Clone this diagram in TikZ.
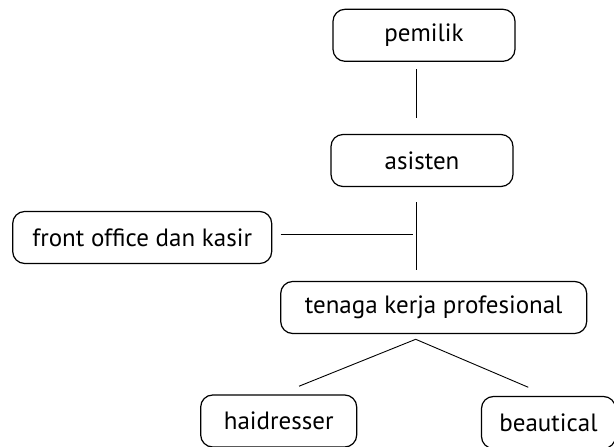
\documentclass[tikz,border=0pt]{standalone}
\usepackage{fontspec}
\setmainfont{PT Sans}
\usepackage{tikz}
\usetikzlibrary{positioning}

\begin{document}
\begin{tikzpicture}[x=1pt, y=1pt]
\tikzstyle{box} = [rectangle, draw, rounded corners=12pt, line width=1.2pt, inner xsep=8pt, minimum height=52pt, font=\fontsize{25}{30}\selectfont]
\tikzstyle{link} = [line width=0.9pt]

\useasboundingbox (0,0) rectangle (614,447);

\node (pemilik) [box, minimum width=182pt] at (424,411.7) {pemilik};
\node (asisten) [box, minimum width=182pt, below=72pt of pemilik, xshift=-2pt] {asisten};
\node (kasir) [box, minimum width=259pt] at (142.2,209.5) {front office dan kasir};
\node (profesional) [box, minimum width=306pt] at (433.7,139.5) {tenaga kerja profesional};
\node (haidresser) [box, minimum width=156pt] at (278.7,26) {haidresser};
\node (beautical) [box, minimum width=134pt] at (548.5,24.5) {beautical};

\coordinate (junc) at (416.7,213);
\coordinate (fork) at (415.7,107.7);

\draw [link, shorten <=7.3pt, shorten >=16pt] (pemilik.south -| junc) -- (asisten.north -| junc);
\draw [link, shorten <=15pt, shorten >=11pt] (asisten.south -| junc) -- (profesional.north -| junc);
\draw [link, shorten <=8.3pt, shorten >=4pt] (kasir.east |- junc) -- (junc);
\draw [link, shorten >=22pt] (fork) -- (haidresser.north);
\draw [link, shorten >=22pt] (fork) -- (beautical.north);
\end{tikzpicture}
\end{document}
